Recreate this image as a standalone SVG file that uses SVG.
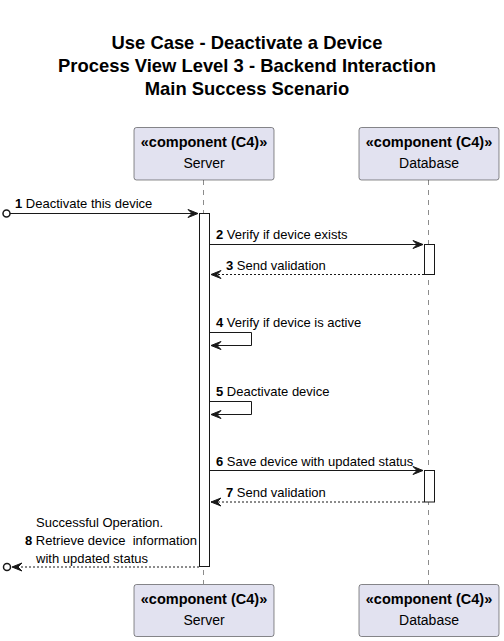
<svg xmlns="http://www.w3.org/2000/svg" width="504" height="641" viewBox="0 0 504 641">
<style>
.title{font-family:"Liberation Sans",Arial,sans-serif;font-size:18.4px;font-weight:bold;fill:#000;text-anchor:middle}
.box{fill:#E2E2F0;stroke:#181818;stroke-width:0.5}
.st{font-family:"Liberation Sans",Arial,sans-serif;font-size:14.5px;font-weight:bold;fill:#000;text-anchor:middle}
.nm{font-family:"Liberation Sans",Arial,sans-serif;font-size:14px;fill:#000;text-anchor:middle}
.life{stroke:#181818;stroke-width:0.5;stroke-dasharray:5,5;fill:none}
.act{fill:#FFFFFF;stroke:#181818;stroke-width:1}
.msg{font-family:"Liberation Sans",Arial,sans-serif;font-size:13px;fill:#000;white-space:pre}
.num{font-weight:bold}
.ln{stroke:#181818;stroke-width:1;fill:none}
.dash{stroke:#181818;stroke-width:1;fill:none;stroke-dasharray:2,2}
.head{fill:#181818;stroke:#181818;stroke-width:1}
.circ{fill:none;stroke:#181818;stroke-width:1.5}
</style>
<rect width="504" height="641" fill="#FFFFFF"/>
<g id="title">
<text class="title" x="247" y="48.5">Use Case - Deactivate a Device</text>
<text class="title" x="247" y="72">Process View Level 3 - Backend Interaction</text>
<text class="title" x="247" y="95">Main Success Scenario</text>
</g>
<g id="lifelines">
<line class="life" x1="203.5" y1="180" x2="203.5" y2="584"/>
<line class="life" x1="428.5" y1="180" x2="428.5" y2="584"/>
</g>
<g id="server-top">
<rect class="box" x="134" y="127.5" width="140" height="52.5" rx="2.5"/>
<text class="st" x="204" y="147">«component (C4)»</text>
<text class="nm" x="204" y="168">Server</text>
</g>
<g id="database-top">
<rect class="box" x="359" y="127.5" width="140" height="52.5" rx="2.5"/>
<text class="st" x="429" y="147">«component (C4)»</text>
<text class="nm" x="429" y="168">Database</text>
</g>
<g id="server-bottom">
<rect class="box" x="134" y="584.5" width="140" height="52" rx="2.5"/>
<text class="st" x="204" y="604">«component (C4)»</text>
<text class="nm" x="204" y="625">Server</text>
</g>
<g id="database-bottom">
<rect class="box" x="359" y="584.5" width="140" height="52" rx="2.5"/>
<text class="st" x="429" y="604">«component (C4)»</text>
<text class="nm" x="429" y="625">Database</text>
</g>
<g id="activations">
<rect class="act" x="199.5" y="213.5" width="10" height="353"/>
<rect class="act" x="424.5" y="244.5" width="10" height="30"/>
<rect class="act" x="424.5" y="470.5" width="10" height="31.5"/>
</g>
<g id="connectors">
<circle class="circ" cx="6.5" cy="213.5" r="3.5"/>
<line class="ln" x1="10" y1="213.5" x2="198" y2="213.5"/>
<polygon class="head" points="188,209.5 198,213.5 188,217.5 192,213.5"/>

<line class="ln" x1="209.5" y1="244.5" x2="423" y2="244.5"/>
<polygon class="head" points="413,240.5 423,244.5 413,248.5 417,244.5"/>

<line class="dash" x1="424" y1="274.5" x2="211" y2="274.5"/>
<polygon class="head" points="221,270.5 211,274.5 221,278.5 217,274.5"/>

<polyline class="ln" points="209.5,332.5 251.5,332.5 251.5,345.5 211,345.5"/>
<polygon class="head" points="221,341.5 211,345.5 221,349.5 217,345.5"/>

<polyline class="ln" points="209.5,401.5 251.5,401.5 251.5,414.5 211,414.5"/>
<polygon class="head" points="221,410.5 211,414.5 221,418.5 217,414.5"/>

<line class="ln" x1="209.5" y1="470.5" x2="423" y2="470.5"/>
<polygon class="head" points="413,466.5 423,470.5 413,474.5 417,470.5"/>

<line class="dash" x1="424" y1="502" x2="211" y2="502"/>
<polygon class="head" points="221,498 211,502 221,506 217,502"/>

<line class="dash" x1="199" y1="567" x2="12" y2="567"/>
<polygon class="head" points="22,563 12,567 22,571 18,567"/>
<circle class="circ" cx="7" cy="567" r="3.5"/>
</g>
<g id="labels">
<text class="msg" x="15" y="208"><tspan class="num">1</tspan> Deactivate this device</text>
<text class="msg" x="216" y="239"><tspan class="num">2</tspan> Verify if device exists</text>
<text class="msg" x="226" y="270"><tspan class="num">3</tspan> Send validation</text>
<text class="msg" x="216" y="327"><tspan class="num">4</tspan> Verify if device is active</text>
<text class="msg" x="216" y="396"><tspan class="num">5</tspan> Deactivate device</text>
<text class="msg" x="216" y="466"><tspan class="num">6</tspan> Save device with updated status</text>
<text class="msg" x="226" y="497"><tspan class="num">7</tspan> Send validation</text>
<text class="msg" x="36" y="527">Successful Operation.</text>
<text class="msg" x="25" y="545" xml:space="preserve"><tspan class="num">8</tspan> Retrieve device  information</text>
<text class="msg" x="36" y="563">with updated status</text>
</g>
</svg>
